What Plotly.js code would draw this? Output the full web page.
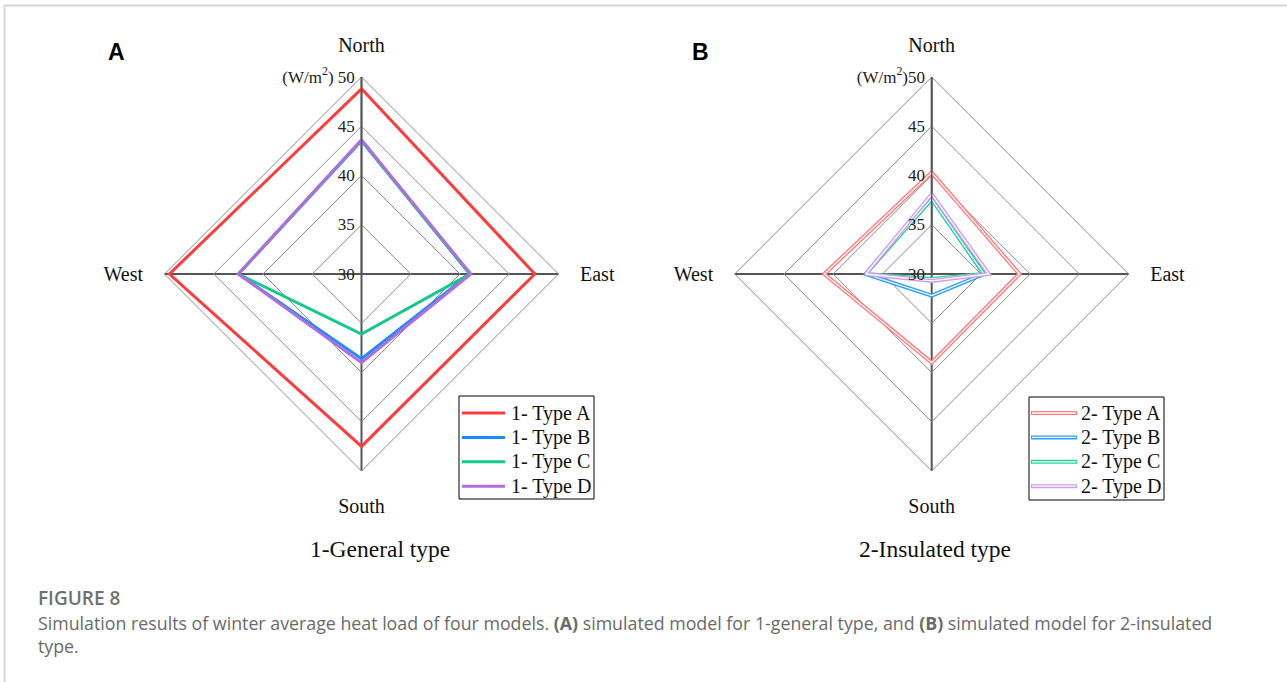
<!DOCTYPE html>
<html>
<head>
<meta charset="utf-8">
<script src="https://cdn.plot.ly/plotly-3.0.1.min.js"></script>
<style>html,body{margin:0;padding:0;background:#fff;}#chart{width:1287px;height:682px;}</style>
</head>
<body>
<div id="chart"></div>
<script>
// ---- data ----
var directions = ['North', 'East', 'South', 'West'];
var radialTicks = [30, 35, 40, 45, 50];
var radialTickTextA = ['30', '35', '40', '45', '(W/m<sup>2</sup>) 50'];
var radialTickTextB = ['30', '35', '40', '45', '(W/m<sup>2</sup>)50'];

var namesA = ['1- Type A', '1- Type B', '1- Type C', '1- Type D'];
var namesB = ['2- Type A', '2- Type B', '2- Type C', '2- Type D'];

// values in order North, East, South, West (W/m2)
var general_typeA = [48.8, 47.6, 47.5, 49.5];
var general_typeB = [43.6, 41.0, 38.6, 42.5];
var general_typeC = [43.5, 41.0, 36.1, 42.5];
var general_typeD = [43.6, 41.1, 39.0, 42.5];

var insulated_typeA = [40.3, 38.9, 39.0, 40.9];
var insulated_typeB = [37.8, 35.3, 32.2, 36.7];
var insulated_typeC = [37.6, 35.3, 30.5, 36.7];
var insulated_typeD = [38.1, 35.8, 30.7, 36.7];

var colorsA = ['#ff3b3b', '#1a8cff', '#14c98a', '#b36be0'];
var colorsB = ['#ff7b7b', '#2aa0ff', '#20d49a', '#d09aee'];

// ---- build ----
function closeLoop(arr) { return arr.concat([arr[0]]); }
var thetaClosed = closeLoop(directions);

var traces = [];
var seriesA = [general_typeA, general_typeB, general_typeC, general_typeD];
var seriesB = [insulated_typeA, insulated_typeB, insulated_typeC, insulated_typeD];

seriesA.forEach(function (vals, i) {
  traces.push({
    type: 'scatterpolar', subplot: 'polar', mode: 'lines',
    r: closeLoop(vals), theta: thetaClosed, name: namesA[i],
    line: { color: colorsA[i], width: 3 }, showlegend: false
  });
});
seriesB.forEach(function (vals, i) {
  traces.push({
    type: 'scatterpolar', subplot: 'polar2', mode: 'lines',
    r: closeLoop(vals), theta: thetaClosed, name: namesB[i],
    line: { color: colorsB[i], width: 4 }, showlegend: false
  });
  traces.push({
    type: 'scatterpolar', subplot: 'polar2', mode: 'lines',
    r: closeLoop(vals), theta: thetaClosed, name: namesB[i],
    line: { color: '#ffffff', width: 1.3 },
    showlegend: false, hoverinfo: 'skip'
  });
});

var W = 1287, H = 682;
function px(x) { return x / W; }
function py(y) { return 1 - y / H; }

var serif = 'Liberation Serif, Times New Roman, serif';

function polarCfg(cx, cy, rad, tickText) {
  return {
    domain: { x: [px(cx - rad), px(cx + rad)], y: [py(cy + rad), py(cy - rad)] },
    gridshape: 'linear',
    bgcolor: 'rgba(0,0,0,0)',
    radialaxis: {
      range: [30, 50], tickvals: radialTicks, ticktext: tickText,
      angle: 90, tickangle: 90, side: 'counterclockwise',
      showline: true, linecolor: '#555', linewidth: 1.5,
      gridcolor: '#8a8a8a', gridwidth: 1,
      ticks: '', tickfont: { family: serif, size: 17, color: '#222' }
    },
    angularaxis: {
      rotation: 90, direction: 'clockwise',
      showline: true, linecolor: '#8a8a8a', linewidth: 1,
      gridcolor: '#555', gridwidth: 1.5,
      ticks: 'outside', ticklen: 17, tickcolor: 'rgba(0,0,0,0)',
      tickfont: { family: serif, size: 20, color: '#111' }
    }
  };
}

var shapes = [
  { type: 'line', xref: 'paper', yref: 'paper', x0: px(4.5), x1: 1, y0: py(5.5), y1: py(5.5), line: { color: '#d6d6d6', width: 2 } },
  { type: 'line', xref: 'paper', yref: 'paper', x0: px(4.5), x1: px(4.5), y0: py(5.5), y1: 0, line: { color: '#d6d6d6', width: 2 } }
];
var annotations = [];

// custom legend boxes (built from names/colours)
function addLegend(names, colors, box, hollow) {
  shapes.push({ type: 'rect', xref: 'paper', yref: 'paper', x0: px(box.x0), x1: px(box.x1), y0: py(box.y1), y1: py(box.y0), line: { color: '#000', width: 1 }, fillcolor: '#fff' });
  names.forEach(function (nm, i) {
    var yy = box.row0 + i * box.step;
    shapes.push({ type: 'line', xref: 'paper', yref: 'paper', x0: px(box.lx0), x1: px(box.lx1), y0: py(yy), y1: py(yy), line: { color: colors[i], width: hollow ? 4 : 3 } });
    if (hollow) {
      shapes.push({ type: 'line', xref: 'paper', yref: 'paper', x0: px(box.lx0 + 1), x1: px(box.lx1 - 1), y0: py(yy), y1: py(yy), line: { color: '#fff', width: 1.3 } });
    }
    annotations.push({ text: nm, xref: 'paper', yref: 'paper', x: px(box.tx), y: py(yy), xanchor: 'left', yanchor: 'middle', showarrow: false, font: { family: serif, size: 20, color: '#111' } });
  });
}
addLegend(namesA, colorsA, { x0: 459, x1: 594, y0: 396, y1: 499, row0: 413, step: 24.4, lx0: 462, lx1: 505, tx: 509 }, false);
addLegend(namesB, colorsB, { x0: 1029, x1: 1164, y0: 397, y1: 500, row0: 413, step: 24.4, lx0: 1031, lx1: 1077, tx: 1079 }, true);

annotations = annotations.concat([
  { text: '<b>A</b>', xref: 'paper', yref: 'paper', x: px(116), y: py(52), xanchor: 'center', yanchor: 'middle', showarrow: false, font: { family: 'Liberation Sans, Arial, sans-serif', size: 23, color: '#000' } },
  { text: '<b>B</b>', xref: 'paper', yref: 'paper', x: px(700), y: py(52), xanchor: 'center', yanchor: 'middle', showarrow: false, font: { family: 'Liberation Sans, Arial, sans-serif', size: 23, color: '#000' } },
  { text: '1-General type', xref: 'paper', yref: 'paper', x: px(380), y: py(549), xanchor: 'center', yanchor: 'middle', showarrow: false, font: { family: serif, size: 23.5, color: '#111' } },
  { text: '2-Insulated type', xref: 'paper', yref: 'paper', x: px(935), y: py(549), xanchor: 'center', yanchor: 'middle', showarrow: false, font: { family: serif, size: 23.5, color: '#111' } },
  { text: 'FIGURE 8', xref: 'paper', yref: 'paper', x: px(36), y: py(598), xanchor: 'left', yanchor: 'middle', showarrow: false, font: { family: 'Open Sans, sans-serif', size: 19, weight: 600, color: '#707070' } },
  { text: 'Simulation results of winter average heat load of four models. <b>(A)</b> simulated model for 1-general type, and <b>(B)</b> simulated model for 2-insulated<br>type.', xref: 'paper', yref: 'paper', x: px(36), y: py(609), xanchor: 'left', yanchor: 'top', align: 'left', showarrow: false, font: { family: 'Open Sans, sans-serif', size: 17.8, color: '#6a6a6a' } }
]);

var layout = {
  width: W, height: H,
  margin: { l: 0, r: 0, t: 0, b: 0 },
  paper_bgcolor: '#fff',
  showlegend: false,
  polar: polarCfg(361.5, 274, 197, radialTickTextA),
  polar2: polarCfg(931.7, 274, 197, radialTickTextB),
  shapes: shapes,
  annotations: annotations
};

Plotly.newPlot('chart', traces, layout, { displayModeBar: false });
</script>
</body>
</html>
